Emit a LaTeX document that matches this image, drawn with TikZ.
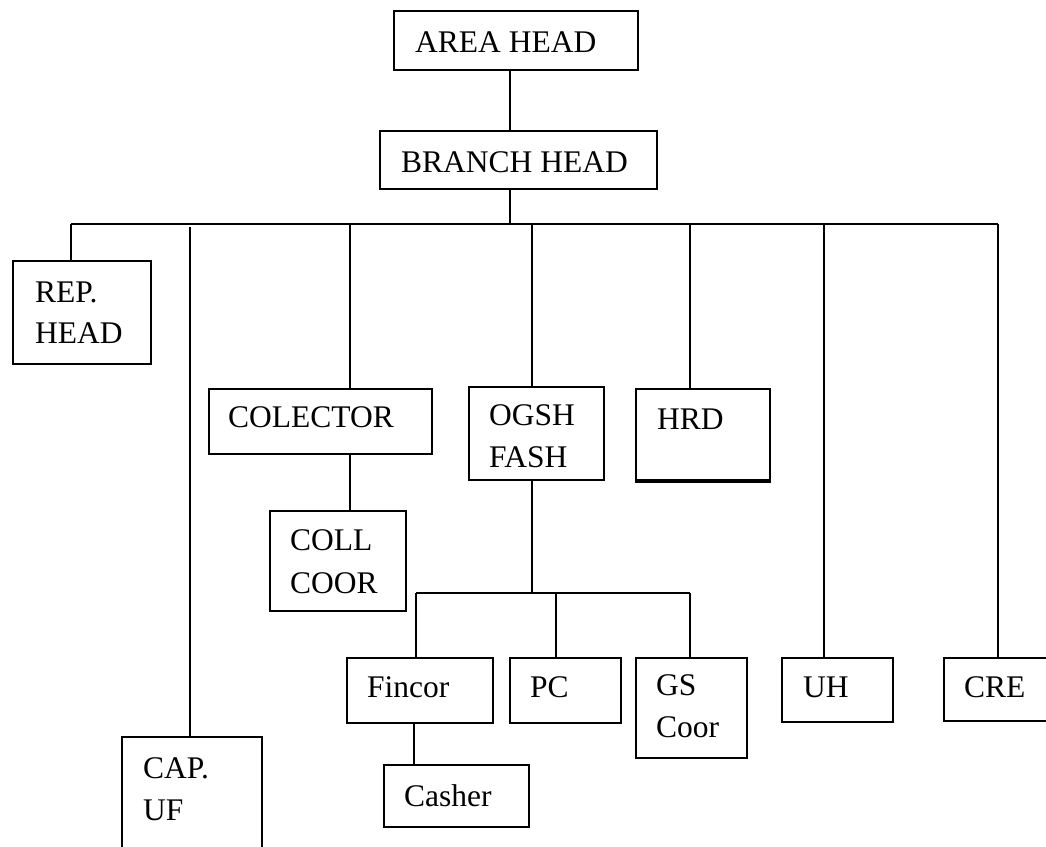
\documentclass[tikz,border=0pt]{standalone}
\usepackage{fontspec}
\setmainfont{Liberation Serif}
\begin{document}
\begin{tikzpicture}[x=1pt,y=-1pt,
  box/.style={draw=black,line width=1.8pt,rectangle,inner sep=0pt,anchor=north west},
  conn/.style={draw=black,line width=1.3pt},
  lbl/.style={inner sep=0pt,anchor=base west,font=\fontsize{31.5}{38}\selectfont}]
\clip (0,0) rectangle (1046,846);
\fill[white] (0,0) rectangle (1046,846);
% boxes
\node[box,minimum width=244pt,minimum height=59pt] (area) at (393,10) {};
\node[box,minimum width=277pt,minimum height=58pt] (branch) at (379,130) {};
\node[box,minimum width=138pt,minimum height=103pt] (rep) at (12,260) {};
\node[box,minimum width=140pt,minimum height=150pt] (cap) at (121,736) {};
\node[box,minimum width=223pt,minimum height=65pt] (colector) at (208,388) {};
\node[box,minimum width=136pt,minimum height=100pt] (collcoor) at (269,510) {};
\node[box,minimum width=135pt,minimum height=93pt] (ogsh) at (468,386) {};
\node[box,minimum width=134pt,minimum height=91pt] (hrd) at (635,388) {};
\node[box,minimum width=146pt,minimum height=65pt] (fincor) at (346,657) {};
\node[box,minimum width=145pt,minimum height=62pt] (casher) at (383,764) {};
\node[box,minimum width=111pt,minimum height=65pt] (pc) at (509,657) {};
\node[box,minimum width=111pt,minimum height=100pt] (gs) at (635,657) {};
\node[box,minimum width=111pt,minimum height=64pt] (uh) at (781,657) {};
\node[box,minimum width=150pt,minimum height=63pt] (cre) at (943,657) {};
\draw[line width=3.5pt] (hrd.south west) -- (hrd.south east);
% junction coordinates
\coordinate (j0) at (510,224);
\coordinate (bL) at (71,224);
\coordinate (bR) at (998,224);
\coordinate (capTop) at (190,227);
\coordinate (jc) at (350,224);
\coordinate (jo) at (532,224);
\coordinate (jh) at (690,224);
\coordinate (ju) at (824,224);
\coordinate (js) at (532,593);
\coordinate (sL) at (416,593);
\coordinate (sP) at (556,593);
\coordinate (sR) at (690,593);
\coordinate (jf) at (414,0);
% connectors
\path[conn] (area.south -| j0) -- (branch.north -| j0);
\path[conn] (branch.south -| j0) -- (j0);
\path[conn] (bL) -- (bR);
\path[conn] (bL) -- (rep.north -| bL);
\path[conn] (capTop) -- (cap.north -| capTop);
\path[conn] (jc) -- (colector.north -| jc);
\path[conn] (colector.south -| jc) -- (collcoor.north -| jc);
\path[conn] (jo) -- (ogsh.north -| jo);
\path[conn] (ogsh.south -| jo) -- (js);
\path[conn] (sL) -- (sR);
\path[conn] (sL) -- (fincor.north -| sL);
\path[conn] (fincor.south -| jf) -- (casher.north -| jf);
\path[conn] (sP) -- (pc.north -| sP);
\path[conn] (sR) -- (gs.north -| sR);
\path[conn] (jh) -- (hrd.north -| jh);
\path[conn] (ju) -- (uh.north -| ju);
\path[conn] (bR) -- (cre.north -| bR);
% labels
\node[lbl] (tarea) at (415,52) {AREA HEAD};
\node[lbl] (tbranch) at (401,172) {BRANCH HEAD};
\node[lbl] (trep1) at (35,302) {REP.};
\node[lbl] (trep2) at (35,343) {HEAD};
\node[lbl] (tcap1) at (143,778) {CAP.};
\node[lbl] (tcap2) at (143,820) {UF};
\node[lbl] (tcol) at (228,427) {COLECTOR};
\node[lbl] (togsh1) at (489,425) {OGSH};
\node[lbl] (togsh2) at (489,467) {FASH};
\node[lbl] (thrd) at (657,429) {HRD};
\node[lbl] (tcoll1) at (290,550) {COLL};
\node[lbl] (tcoll2) at (290,593) {COOR};
\node[lbl] (tfin) at (367,697) {Fincor};
\node[lbl] (tpc) at (530,697) {PC};
\node[lbl] (tgs1) at (656,695) {GS};
\node[lbl] (tgs2) at (656,737) {Coor};
\node[lbl] (tcash) at (404,806) {Casher};
\node[lbl] (tuh) at (803,697) {UH};
\node[lbl] (tcre) at (964,697) {CRE};
\end{tikzpicture}
\end{document}
